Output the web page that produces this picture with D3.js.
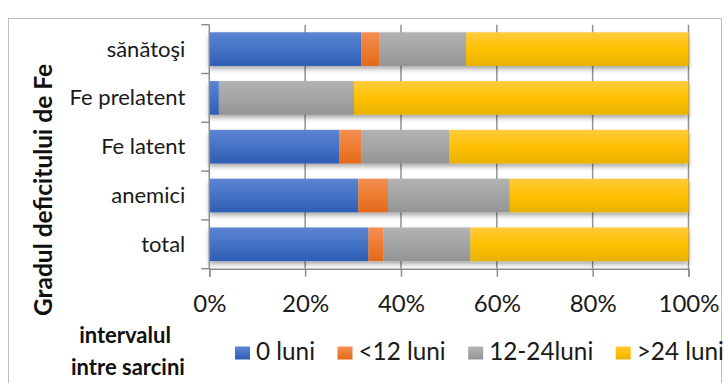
<!DOCTYPE html>
<html>
<head>
<meta charset="utf-8">
<script src="https://cdn.jsdelivr.net/npm/d3@7"></script>
<style>
  html, body { margin: 0; padding: 0; background: #fff; }
  svg { display: block; font-family: Lato, "Open Sans", sans-serif; }
</style>
</head>
<body>
<svg id="chart" width="727" height="383"></svg>
<script>
// Categories (top to bottom) and the share of each birth-interval group, in percent
const categories = ["sănătoşi", "Fe prelatent", "Fe latent", "anemici", "total"];
const seriesNames = ["0 luni", "<12 luni", "12-24luni", ">24 luni"];
const luni0   = [31.7, 2.0, 27.1, 31.1, 33.2];
const sub12   = [3.8, 0.0, 4.6, 6.2, 3.1];
const luni12_24 = [18.1, 28.2, 18.4, 25.4, 18.2];
const over24  = [46.4, 69.8, 49.9, 37.3, 45.5];
const tickValues = [0, 20, 40, 60, 80, 100];
const tickLabels = ["0%", "20%", "40%", "60%", "80%", "100%"];

const seriesValues = [luni0, sub12, luni12_24, over24];
const colors = [
  ["#5c85d2", "#4472c4", "#2f5db5"],
  ["#f38f55", "#ed7d31", "#e2691a"],
  ["#b2b2b2", "#a5a5a5", "#939393"],
  ["#ffcb3d", "#ffc000", "#e8b200"]
];

const rows = categories.map((c, i) => {
  const r = { cat: c };
  seriesNames.forEach((s, k) => r[s] = seriesValues[k][i]);
  return r;
});

const svg = d3.select("#chart");
const defs = svg.append("defs");

colors.forEach((c, k) => {
  const g = defs.append("linearGradient")
    .attr("id", "grad" + k).attr("x1", 0).attr("y1", 0).attr("x2", 0).attr("y2", 1);
  g.append("stop").attr("offset", "0%").attr("stop-color", c[0]);
  g.append("stop").attr("offset", "50%").attr("stop-color", c[1]);
  g.append("stop").attr("offset", "100%").attr("stop-color", c[2]);
});

const shadow = defs.append("filter").attr("id", "shadow")
  .attr("x", "-5%").attr("y", "-20%").attr("width", "110%").attr("height", "160%");
shadow.append("feDropShadow").attr("dx", 0).attr("dy", 3).attr("stdDeviation", 2.5)
  .attr("flood-color", "#000").attr("flood-opacity", 0.35);

// Outer chart frame
svg.append("rect")
  .attr("x", 8.5).attr("y", 18.5).attr("width", 713).attr("height", 420)
  .attr("fill", "none").attr("stroke", "#bdbdbd").attr("stroke-width", 1);

const plot = { left: 209.3, right: 688.5, top: 24.7, bottom: 268.7 };

const x = d3.scaleLinear().domain([0, 100]).range([plot.left, plot.right]);
const y = d3.scaleBand().domain(categories).range([plot.top, plot.bottom])
  .paddingInner(0.31).paddingOuter(0.155);

// Vertical gridlines
svg.append("g").selectAll("line").data(tickValues.slice(1)).join("line")
  .attr("x1", d => x(d)).attr("x2", d => x(d))
  .attr("y1", plot.top).attr("y2", plot.bottom)
  .attr("stroke", "#939393").attr("stroke-width", 1.5);

// Stacked bars
const stack = d3.stack().keys(seriesNames);
const layers = stack(rows);

svg.append("g").attr("filter", "url(#shadow)")
  .selectAll("g").data(layers).join("g")
  .attr("fill", (d, k) => `url(#grad${k})`)
  .selectAll("rect").data(d => d).join("rect")
  .attr("x", d => x(d[0]))
  .attr("width", d => Math.max(0, x(d[1]) - x(d[0])))
  .attr("y", d => y(d.data.cat))
  .attr("height", y.bandwidth());

// Left axis line with ticks at band boundaries
const half = (y.step() - y.bandwidth()) / 2;
const boundaries = categories.map(c => y(c) - half).concat([plot.bottom]);
const yAxis = svg.append("g");
yAxis.append("line")
  .attr("x1", plot.left).attr("x2", plot.left)
  .attr("y1", plot.top).attr("y2", plot.bottom)
  .attr("stroke", "#8c8c8c").attr("stroke-width", 1.5);
yAxis.selectAll("line.tick").data(boundaries).join("line").attr("class", "tick")
  .attr("x1", plot.left - 8).attr("x2", plot.left)
  .attr("y1", d => d).attr("y2", d => d)
  .attr("stroke", "#8c8c8c").attr("stroke-width", 1.5);

// Category labels
svg.append("g").selectAll("text").data(categories).join("text")
  .attr("x", plot.left - 24)
  .attr("y", d => y(d) + y.bandwidth() / 2 + 7.5)
  .attr("text-anchor", "end")
  .attr("font-size", 22)
  .attr("fill", "#1a1a1a")
  .text(d => d);

// Bottom axis
const xAxis = d3.axisBottom(x)
  .tickValues(tickValues)
  .tickFormat((d, i) => tickLabels[i])
  .tickSize(8).tickPadding(18);
const gx = svg.append("g").attr("transform", `translate(0,${plot.bottom})`).call(xAxis);
gx.select(".domain").attr("stroke", "#8c8c8c").attr("stroke-width", 1.5);
gx.selectAll(".tick line").attr("stroke", "#8c8c8c").attr("stroke-width", 1.5);
gx.selectAll(".tick text")
  .attr("font-family", "Lato, sans-serif")
  .attr("font-size", 24)
  .attr("fill", "#1a1a1a");

// Y axis title
svg.append("text")
  .attr("transform", "translate(52,190) rotate(-90)")
  .attr("text-anchor", "middle")
  .attr("font-size", 24.5)
  .attr("font-weight", "bold")
  .attr("fill", "#111")
  .text("Gradul deficitului de Fe");

// Legend title (two lines)
const lt = svg.append("text")
  .attr("text-anchor", "middle")
  .attr("font-size", 22)
  .attr("font-weight", "bold")
  .attr("fill", "#111");
lt.append("tspan").attr("x", 125).attr("y", 343).text("intervalul");
lt.append("tspan").attr("x", 128).attr("y", 375).text("intre sarcini");

// Legend entries laid out left to right
const legend = svg.append("g");
let lx = 235;
seriesNames.forEach((name, k) => {
  legend.append("rect")
    .attr("x", lx).attr("y", 346.5).attr("width", 15).attr("height", 13)
    .attr("fill", `url(#grad${k})`);
  const t = legend.append("text")
    .attr("x", lx + 21).attr("y", 359.5)
    .attr("font-size", 24.3)
    .attr("fill", "#1a1a1a")
    .text(name);
  lx += 21 + t.node().getComputedTextLength() + 22.5;
});
</script>
</body>
</html>
